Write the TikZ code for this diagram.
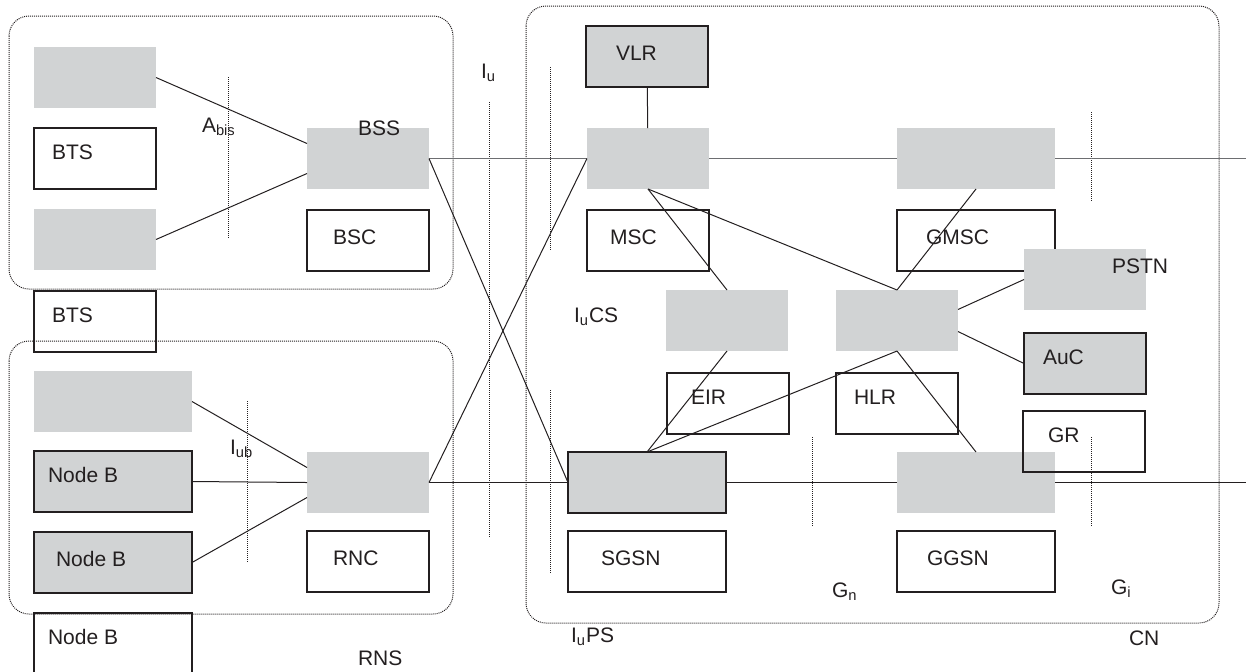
\documentclass[tikz,border=0pt]{standalone}
\usepackage{fontspec}
\setmainfont{Liberation Sans}
\usetikzlibrary{positioning, calc}
\definecolor{umtsgray}{HTML}{D1D3D4}
\definecolor{umtsink}{HTML}{231F20}
\definecolor{umtsline}{HTML}{6D6E71}

\begin{document}
\begin{tikzpicture}[
        x=0.5pt, y=-0.5pt,
        font=\fontsize{10.5}{12}\selectfont,
        every node/.style={anchor=north west, inner sep=0pt, outer sep=0pt},
        greybox/.style={fill=umtsgray, minimum width=61pt, minimum height=30.5pt},
        whitebox/.style={draw=umtsink, line width=1pt, minimum width=61pt, minimum height=30.5pt},
        framedgrey/.style={greybox, draw=umtsink, line width=1pt},
        wide/.style={minimum width=79pt},
        lbl/.style={anchor=base west, text=umtsink},
        link/.style={draw=umtsink, line width=0.5pt},
        trunk/.style={draw=umtsline, line width=0.8pt},
        cutline/.style={draw=umtsink, dash pattern=on 0.5pt off 0.5pt, line width=0.5pt},
        areabox/.style={draw=umtsink, dash pattern=on 0.5pt off 0.5pt, line width=0.5pt, rounded corners=10pt},
      ]
        \useasboundingbox (0,0) rectangle (1246,671);

        % areas
        \draw[areabox] (9,16) rectangle (453,289);
        \draw[areabox] (9,341) rectangle (453,614);
        \draw[areabox] (526,6) rectangle (1219,623);

        % BSS
        \node[greybox] (btsa) at (34,47) {};
        \node[whitebox] (btsb) at (34,128) {};
        \node[greybox] (btsc) at (34,209) {};
        \node[whitebox] (btsd) at (34,291) {};
        \node[greybox] (bscg) at (307,128) {};
        \node[whitebox] (bsc) at (307,210) {};

        % RNS
        \node[greybox, wide] (nba) at (34,371) {};
        \node[framedgrey, wide] (nbb) at (34,451) {};
        \node[framedgrey, wide] (nbc) at (34,532) {};
        \node[whitebox, wide] (nbd) at (34,613) {};
        \node[greybox] (rncg) at (307,452) {};
        \node[whitebox] (rnc) at (307,531) {};

        % CN
        \node[framedgrey] (vlr) at (586,26) {};
        \node[greybox] (mscg) at (587,128) {};
        \node[whitebox] (msc) at (587,210) {};
        \node[greybox, wide] (gmscg) at (897,128) {};
        \node[whitebox, wide] (gmsc) at (897,210) {};
        \node[greybox] (pstn) at (1024,249) {};
        \node[greybox] (eirg) at (666,290) {};
        \node[greybox] (hlrg) at (836,290) {};
        \node[whitebox] (eir) at (667,373) {};
        \node[whitebox] (hlr) at (836,373) {};
        \node[framedgrey] (auc) at (1024,333) {};
        \node[framedgrey, wide] (sgsng) at (568,452) {};
        \node[whitebox, wide] (sgsn) at (568,531) {};
        \node[greybox, wide] (ggsng) at (897,452) {};
        \node[whitebox] (gr) at (1023,411) {};
        \node[whitebox, wide] (ggsn) at (897,531) {};

        \coordinate (csout) at (1246,158.5);
        \coordinate (psout) at (1246,482.5);

        % interface cuts
        \draw[cutline] (228,77) -- (228,239);
        \draw[cutline] (247,401) -- (247,563);
        \draw[cutline] (489,102) -- (489,538);
        \draw[cutline] (550,67) -- (550,250);
        \draw[cutline] (550,390) -- (550,573);
        \draw[cutline] (812,437) -- (812,527);
        \draw[cutline] (1091,112) -- (1091,202);
        \draw[cutline] (1091,437) -- (1091,527);

        % links
        \draw[link] (btsa.east) -- ([yshift=7.5pt]bscg.west);
        \draw[link] (btsc.east) -- ([yshift=-7.5pt]bscg.west);
        \draw[link] (nba.east) -- ([yshift=7.5pt]rncg.west);
        \draw[link] (nbb.east) -- (rncg.west);
        \draw[link] (nbc.east) -- ([yshift=-7.5pt]rncg.west);
        \draw[trunk] (bscg.east) -- (mscg.west);
        \draw[trunk] (mscg.east) -- (gmscg.west);
        \draw[trunk] (gmscg.east) -- (csout);
        \draw[link] (bscg.east) -- (sgsng.west);
        \draw[link] (rncg.east) -- (mscg.west);
        \draw[link] (rncg.east) -- (sgsng.west);
        \draw[link] (sgsng.east) -- (ggsng.west);
        \draw[link] (ggsng.east) -- (psout);
        \draw[link] (vlr) -- (mscg);
        \draw[link] (mscg.south) -- (eirg.north);
        \draw[link] (mscg.south) -- (hlrg.north);
        \draw[link] (gmscg.south) -- (hlrg.north);
        \draw[link] (hlrg.south) -- (ggsng.north);
        \draw[link] (sgsng.north) -- (eirg.south);
        \draw[link] (sgsng.north) -- (hlrg.south);
        \draw[link] ([yshift=5.5pt]hlrg.east) -- (pstn.west);
        \draw[link] ([yshift=-5.5pt]hlrg.east) -- (auc.west);

        % texts
        \node[lbl] (btsbt) at (52,159) {BTS};
        \node[lbl] (btsdt) at (52,322) {BTS};
        \node[lbl] (bsst) at (358,135) {BSS};
        \node[lbl] (bsct) at (333,244) {BSC};
        \node[lbl] (abist) at (202,132) {A\textsubscript{bis}};
        \node[lbl] (nbbt) at (48,482) {Node B};
        \node[lbl] (nbct) at (56,566) {Node B};
        \node[lbl] (nbdt) at (48,644) {Node B};
        \node[lbl] (rnct) at (333,565) {RNC};
        \node[lbl] (iubt) at (230,454) {I\textsubscript{ub}};
        \node[lbl] (rnst) at (358,665) {RNS};
        \node[lbl] (iut) at (481,78) {I\textsubscript{u}};
        \node[lbl] (iucst) at (574,322) {I\textsubscript{u}CS};
        \node[lbl] (iupst) at (571,642) {I\textsubscript{u}PS};
        \node[lbl] (vlrt) at (616,60) {VLR};
        \node[lbl] (msct) at (610,244) {MSC};
        \node[lbl] (gmsct) at (926,244) {GMSC};
        \node[lbl] (pstnt) at (1112,273) {PSTN};
        \node[lbl] (eirt) at (691,404) {EIR};
        \node[lbl] (hlrt) at (854,404) {HLR};
        \node[lbl] (auct) at (1043,364) {AuC};
        \node[lbl] (grt) at (1048,442) {GR};
        \node[lbl] (sgsnt) at (601,565) {SGSN};
        \node[lbl] (ggsnt) at (927,565) {GGSN};
        \node[lbl] (gnt) at (832,597) {G\textsubscript{n}};
        \node[lbl] (git) at (1111,594) {G\textsubscript{i}};
        \node[lbl] (cnt) at (1129,645) {CN};
      \end{tikzpicture}
\end{document}
